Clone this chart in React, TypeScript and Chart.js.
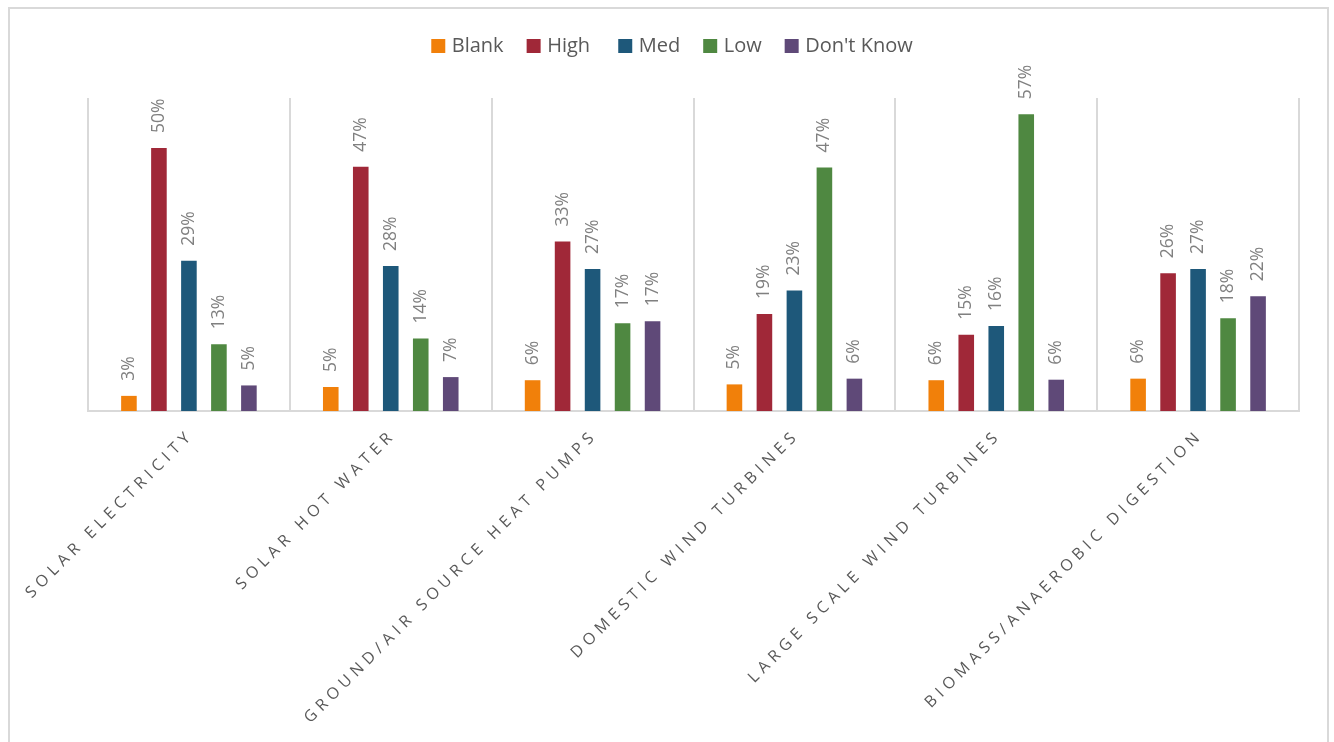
import React, { useEffect, useRef } from 'react';
import { Chart, registerables } from 'chart.js';

Chart.register(...registerables);

const categories = [
  'SOLAR ELECTRICITY',
  'SOLAR HOT WATER',
  'GROUND/AIR SOURCE HEAT PUMPS',
  'DOMESTIC WIND TURBINES',
  'LARGE SCALE WIND TURBINES',
  'BIOMASS/ANAEROBIC DIGESTION',
];

const seriesNames = ['Blank', 'High ', 'Med', 'Low', "Don't Know"];
const blankValues = [2.9, 4.6, 5.9, 5.1, 5.9, 6.2];
const highValues = [50.4, 46.8, 32.5, 18.6, 14.6, 26.4];
const medValues = [28.8, 27.8, 27.2, 23.1, 16.3, 27.2];
const lowValues = [12.8, 13.9, 16.8, 46.7, 56.9, 17.8];
const dontKnowValues = [4.9, 6.5, 17.2, 6.2, 6.0, 22.0];
const seriesColors = ['#F1800A', '#A02838', '#1E587A', '#4F8841', '#5F4978'];

const FONT = '"Open Sans", "DejaVu Sans", sans-serif';

const customPlugin = {
  id: 'customDraw',
  afterDatasetsDraw(chart: any) {
    const ctx = chart.ctx as CanvasRenderingContext2D;
    ctx.save();
    ctx.font = `17.5px ${FONT}`;
    ctx.fillStyle = '#808080';
    ctx.textAlign = 'left';
    ctx.textBaseline = 'middle';
    chart.data.datasets.forEach((ds: any, di: number) => {
      const meta = chart.getDatasetMeta(di);
      meta.data.forEach((bar: any, i: number) => {
        const v = ds.data[i];
        ctx.save();
        ctx.translate(bar.x, bar.y - 15);
        ctx.rotate(-Math.PI / 2);
        ctx.fillText(`${Math.round(v)}%`, 0, 0);
        ctx.restore();
      });
    });
    ctx.restore();
  },
  afterDraw(chart: any) {
    const ctx = chart.ctx as CanvasRenderingContext2D;
    const xScale = chart.scales.x;
    const area = chart.chartArea;
    // category labels
    ctx.save();
    ctx.font = `16px ${FONT}`;
    ctx.fillStyle = '#595959';
    ctx.textAlign = 'right';
    ctx.textBaseline = 'middle';
    (ctx as any).letterSpacing = '5px';
    categories.forEach((c, i) => {
      const x = xScale.getPixelForValue(i);
      ctx.save();
      ctx.translate(x + 2.5, area.bottom + 21.5);
      ctx.rotate(-Math.PI / 4);
      ctx.fillText(c, 0, 0);
      ctx.restore();
    });
    ctx.restore();

    // legend
    ctx.save();
    ctx.font = `20px ${FONT}`;
    ctx.textBaseline = 'middle';
    ctx.textAlign = 'left';
    const box = 14;
    const boxGap = 6.5;
    const itemGap = 23;
    const widths = seriesNames.map((n) => ctx.measureText(n).width);
    const total =
      widths.reduce((a, w) => a + box + boxGap + w, 0) + itemGap * (seriesNames.length - 1);
    let x = 662 - total / 2;
    const cy = 37;
    seriesNames.forEach((n, i) => {
      ctx.fillStyle = seriesColors[i];
      ctx.fillRect(x, cy - box / 2, box, box);
      ctx.fillStyle = '#595959';
      ctx.fillText(n, x + box + boxGap, cy + 0.5);
      x += box + boxGap + widths[i] + itemGap;
    });
    ctx.restore();
  },
};

export default function App() {
  const canvasRef = useRef<HTMLCanvasElement | null>(null);

  useEffect(() => {
    if (!canvasRef.current) return;
    const valueSets = [blankValues, highValues, medValues, lowValues, dontKnowValues];
    const chart = new Chart(canvasRef.current, {
      type: 'bar',
      data: {
        labels: categories,
        datasets: seriesNames.map((name, i) => ({
          label: name,
          data: valueSets[i],
          backgroundColor: seriesColors[i],
          borderWidth: 0,
          categoryPercentage: 0.743,
          barPercentage: 0.52,
        })),
      },
      options: {
        animation: false,
        responsive: true,
        maintainAspectRatio: false,
        layout: { padding: { left: 78, right: 28, top: 89, bottom: 331 } },
        plugins: {
          legend: { display: false },
          tooltip: { enabled: false },
        },
        scales: {
          x: {
            display: true,
            offset: true,
            ticks: { display: false },
            grid: {
              display: true,
              offset: true,
              drawTicks: false,
              color: '#d9d9d9',
              lineWidth: 2,
            },
            border: { display: true, color: '#d9d9d9', width: 2 },
            afterFit: (s: any) => {
              s.height = 0;
            },
          },
          y: {
            display: false,
            min: 0,
            max: 60,
          },
        },
      },
      plugins: [customPlugin],
    });
    return () => chart.destroy();
  }, []);

  return (
    <div
      style={{
        position: 'fixed',
        left: 8,
        top: 7,
        width: 1321,
        height: 735,
        boxSizing: 'border-box',
        border: '2px solid #d9d9d9',
        borderBottom: 'none',
        background: '#ffffff',
      }}
    >
      <div style={{ position: 'relative', width: '100%', height: '100%' }}>
        <canvas ref={canvasRef} />
      </div>
    </div>
  );
}
